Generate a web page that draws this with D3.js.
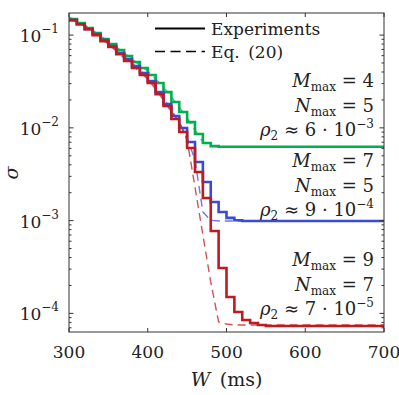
<!DOCTYPE html>
<html>
<head>
<meta charset="utf-8">
<script src="https://cdnjs.cloudflare.com/ajax/libs/d3/7.8.5/d3.min.js"></script>
<style>
  body { margin: 0; background: #fff; }
</style>
</head>
<body>
<svg id="chart" width="399" height="395"></svg>
<script>
// W grid (ms); last point carries the plateau out to 700
const wGrid = [300,310,320,330,340,350,360,370,380,390,400,410,420,430,440,450,460,470,480,490,500,510,520,530,540,550,700]

// experiments (staircase)
const expGreen = [0.1486,0.1346,0.1189,0.1051,0.0906,0.0800,0.0689,0.0594,0.0512,0.0441,0.0371,0.0304,0.0243,0.0190,0.0148,0.01154,0.00857,0.00686,0.00636,0.00625,0.00625,0.00625,0.00625,0.00625,0.00625,0.00625,0.00625]
const expBlue = [0.145,0.131,0.116,0.1025,0.0884,0.0761,0.0640,0.0551,0.0463,0.0390,0.0319,0.0243,0.0180,0.0134,0.00995,0.00703,0.00428,0.00261,0.00159,0.00124,0.00107,0.00101,0.00099,0.00099,0.00099,0.00099,0.00099]
const expRed = [0.145,0.131,0.116,0.100,0.0861,0.0743,0.0624,0.0525,0.0441,0.0371,0.0304,0.0231,0.0172,0.01245,0.00902,0.00606,0.00334,0.00175,0.000773,0.000308,0.000150,0.0001035,0.0000849,0.0000788,0.0000750,0.0000731,0.0000731]

// Eq. (20)
const eqGreen = [0.1563,0.1415,0.1282,0.1132,0.0976,0.0861,0.0743,0.0640,0.0551,0.0475,0.0409,0.0336,0.0275,0.0215,0.0168,0.01276,0.00946,0.00703,0.00637,0.00625,0.00625,0.00625,0.00625,0.00625,0.00625,0.00625,0.00625]
const eqBlue = [0.1525,0.138,0.125,0.1104,0.0952,0.0820,0.0689,0.0594,0.0499,0.0420,0.0353,0.0275,0.0209,0.01556,0.01155,0.00776,0.00450,0.00124,0.00101,0.00099,0.00099,0.00099,0.00099,0.00099,0.00099,0.00099,0.00099]
const eqRed = [0.1525,0.138,0.125,0.1077,0.0928,0.0800,0.0673,0.0565,0.0475,0.0399,0.0336,0.0262,0.0199,0.0148,0.01155,0.00740,0.00230,0.000700,0.000218,0.0000807,0.0000768,0.0000750,0.0000750,0.0000750,0.0000750,0.0000750,0.0000750]

const xTicks = [300,400,500,600,700]
const yTicks = [1e-1,1e-2,1e-3,1e-4]
const yTickExp = ["\u22121","\u22122","\u22123","\u22124"]

const annotations = [
  {M: "4", N: "5", rho: "6", e: "\u22123", base: 87},
  {M: "7", N: "5", rho: "9", e: "\u22124", base: 167},
  {M: "9", N: "7", rho: "7", e: "\u22125", base: 266}
]

const COLORS = ["#00b050", "#3a4cd6", "#c01a1f"]

const svg = d3.select("#chart").style("font-family", "'DejaVu Serif'")
const L = 69, R = 384, T = 13, B = 332

const x = d3.scaleLinear().domain([300, 700]).range([L, R])
const y = d3.scaleLog().domain([6.3e-5, 0.173]).range([B, T])

svg.append("defs").append("clipPath").attr("id", "clip")
  .append("rect").attr("x", L).attr("y", T).attr("width", R - L).attr("height", B - T)

const plot = svg.append("g").attr("clip-path", "url(#clip)")

const stepLine = d3.line().x(d => x(d[0])).y(d => y(d[1])).curve(d3.curveStepAfter)
const smoothLine = d3.line().x(d => x(d[0])).y(d => y(d[1]))

const eqs = [eqGreen, eqBlue, eqRed]
const exps = [expGreen, expBlue, expRed]

eqs.forEach(function(s, i) {
  plot.append("path")
    .datum(wGrid.map((w, k) => [w, s[k]]))
    .attr("fill", "none")
    .attr("stroke", COLORS[i])
    .attr("stroke-opacity", 0.75)
    .attr("stroke-width", 1.4)
    .attr("stroke-dasharray", "8,5")
    .attr("d", smoothLine)
})

exps.forEach(function(s, i) {
  plot.append("path")
    .datum(wGrid.map((w, k) => [w, s[k]]))
    .attr("fill", "none")
    .attr("stroke", COLORS[i])
    .attr("stroke-width", 2.6)
    .attr("d", stepLine)
})

// frame
svg.append("rect").attr("x", L).attr("y", T).attr("width", R - L).attr("height", B - T)
  .attr("fill", "none").attr("stroke", "#333").attr("stroke-width", 1)

// x ticks (inside, top and bottom)
const axisG = svg.append("g").attr("stroke", "#333").attr("stroke-width", 1)
xTicks.forEach(function(t) {
  axisG.append("line").attr("x1", x(t)).attr("x2", x(t)).attr("y1", B).attr("y2", B - 4)
  axisG.append("line").attr("x1", x(t)).attr("x2", x(t)).attr("y1", T).attr("y2", T + 4)
})

// y ticks, major and minor, both sides
y.ticks(40).forEach(function(t) {
  const major = yTicks.some(v => Math.abs(v - t) / v < 1e-6)
  const len = major ? 4.5 : 2.5
  axisG.append("line").attr("x1", L).attr("x2", L + len).attr("y1", y(t)).attr("y2", y(t))
  axisG.append("line").attr("x1", R).attr("x2", R - len).attr("y1", y(t)).attr("y2", y(t))
})

// tick labels
svg.append("g").selectAll("text").data(xTicks).join("text")
  .attr("x", d => x(d)).attr("y", 358)
  .attr("text-anchor", "middle").attr("font-size", 17).attr("fill", "#222")
  .text(d => d)

yTicks.forEach(function(t, i) {
  const g = svg.append("text").attr("x", 59).attr("y", y(t) + 7)
    .attr("text-anchor", "end").attr("font-size", 17).attr("fill", "#222")
  g.append("tspan").text("10")
  g.append("tspan").attr("dy", -9).attr("font-size", 12).text(yTickExp[i])
})

// axis titles
const xl = svg.append("text").attr("x", (L + R) / 2).attr("y", 386)
  .attr("text-anchor", "middle").attr("font-size", 19).attr("fill", "#222")
xl.append("tspan").attr("font-style", "italic").text("W")
xl.append("tspan").text("\u2002(ms)")

svg.append("text").attr("transform", "translate(18,173) rotate(-90)")
  .attr("text-anchor", "middle").attr("font-size", 19).attr("font-style", "italic")
  .attr("fill", "#222").text("\u03c3")

// legend
const leg = svg.append("g")
leg.append("line").attr("x1", 155).attr("x2", 205).attr("y1", 28.5).attr("y2", 28.5)
  .attr("stroke", "#000").attr("stroke-width", 2.2)
leg.append("line").attr("x1", 155).attr("x2", 205).attr("y1", 51.5).attr("y2", 51.5)
  .attr("stroke", "#000").attr("stroke-width", 1.5).attr("stroke-dasharray", "10,5.5")
leg.append("text").attr("x", 211).attr("y", 35).attr("font-size", 17).attr("fill", "#222").text("Experiments")
leg.append("text").attr("x", 211).attr("y", 58).attr("font-size", 17).attr("fill", "#222").text("Eq.\u2002(20)")

// parameter annotations
function subLine(base, letter, val) {
  const t = svg.append("text").attr("x", 374).attr("y", base)
    .attr("text-anchor", "end").attr("font-size", 18).attr("fill", "#222")
  t.append("tspan").attr("font-style", "italic").text(letter)
  t.append("tspan").attr("font-size", 12).attr("dy", 4).text("max")
  t.append("tspan").attr("dy", -4).text(" = " + val)
}
annotations.forEach(function(a) {
  subLine(a.base, "M", a.M)
  subLine(a.base + 24.5, "N", a.N)
  const t = svg.append("text").attr("x", 374).attr("y", a.base + 49)
    .attr("text-anchor", "end").attr("font-size", 18).attr("fill", "#222")
  t.append("tspan").attr("font-style", "italic").text("\u03c1")
  t.append("tspan").attr("font-size", 12).attr("dy", 4).text("2")
  t.append("tspan").attr("dy", -4).text(" \u2248 " + a.rho + " \u00b7 10")
  t.append("tspan").attr("font-size", 12).attr("dy", -8).text(a.e)
})
</script>
</body>
</html>
